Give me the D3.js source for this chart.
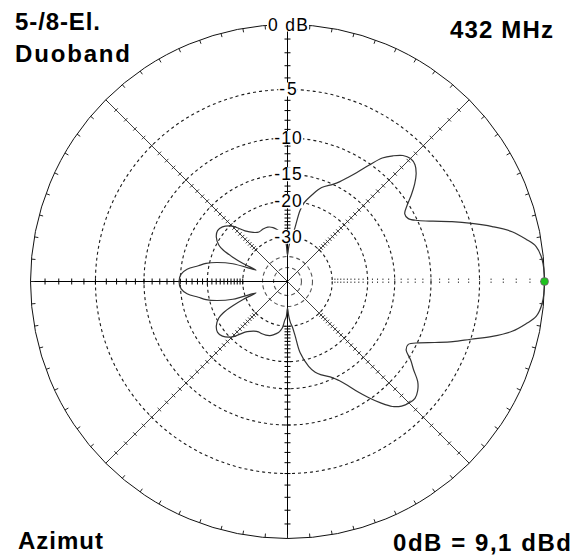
<!DOCTYPE html>
<html>
<head>
<meta charset="utf-8">
<script src="https://cdn.jsdelivr.net/npm/d3@7"></script>
<style>
  html, body { margin: 0; padding: 0; background: #fff; }
  svg { display: block; }
</style>
</head>
<body>
<svg id="chart" width="579" height="557"></svg>
<script>
// Azimuth pattern: direction in degrees (counter-clockwise, 0 = forward), relative gain in dB
const azimuthDeg = [
  0, 5, 8, 10, 12.5, 15, 17.5, 20, 22.5, 25, 27.5, 30, 32.5, 35, 37.5, 40, 42.5, 45,
  47.5, 50, 52.5, 55, 57.5, 60, 62.5, 65, 70, 74, 78, 80, 82, 84, 86, 88, 90, 92, 94,
  97, 100, 105, 110, 115, 120, 125, 130, 135, 140, 144, 148, 152, 154, 156, 158, 160,
  162, 165, 167.5, 170, 173, 176, 180,
  184, 187, 190, 192.5, 195, 198, 200, 202, 204, 206, 208, 212, 216, 220, 225, 230,
  233, 236, 240, 244, 248, 252, 255, 260, 262, 264, 266, 268, 270, 272, 274, 276, 278,
  280, 284, 287, 290, 295, 297.5, 300, 302.5, 305, 307.5, 310, 312.5, 315, 317.5, 320,
  322.5, 325, 327.5, 330, 332.5, 335, 337.5, 340, 342.5, 345, 347.5, 350, 352, 355
];
const gainDb = [
  0, -0.1, -0.4, -1.0, -1.9, -3.3, -4.9, -6.6, -8.4, -9.9, -10.9, -11.0, -10.2, -9.1, -8.1, -7.3, -6.8, -6.7,
  -7.0, -7.7, -8.6, -10.2, -11.8, -13.1, -14.2, -15.0, -16.2, -17.9, -19.9, -21.8, -26.5, -29.8, -31.5, -34.5, -39, -33, -30.3,
  -28.3, -27.5, -26.2, -25.6, -25.6, -25.8, -25.0, -23.3, -20.4, -19.0, -18.7, -19.2, -20.5, -22.0, -25.0, -29.0, -35.0,
  -25.7, -21.5, -19.3, -17.9, -16.0, -15.1, -14.8,
  -15.1, -16.0, -17.9, -19.3, -21.5, -25.7, -35.0, -29.0, -25.0, -22.0, -20.5, -19.2, -18.7, -19.0, -20.4, -23.3,
  -24.3, -25.0, -25.5, -25.5, -25.6, -25.9, -26.4, -27.5, -28.3, -29.5, -32.5, -34, -39, -34.5, -31.5, -29.8, -26.5,
  -21.8, -18.5, -17.1, -16.3, -15.2, -14.3, -13.1, -11.6, -10.2, -8.9, -7.8, -7.2, -6.9, -6.8, -7.1,
  -7.7, -8.8, -9.7, -10.8, -10.9, -9.8, -8.2, -6.5, -5.0, -3.3, -1.9, -1.0, -0.4, -0.1
];

// Scale rings (dB) and their labels
const ringLevels = [0, -5, -10, -15, -20, -30];
const ringLabels = ["0 dB", "-5", "-10", "-15", "-20", "-30"];
const ringLabelWidths = [40, 17.5, 27.5, 27.5, 27.5, 27.5];
const innerRings = [-40, -50];
// 1 dB tick marks along the axes
const axisTickDb = d3.range(-1, -31, -1);
// Tick marks around the rim every 5 degrees
const rimTickDeg = d3.range(0, 360, 5);
const spokeDeg = [45, 135, 225, 315];

const titleTopLeft = ["5-/8-El.", "Duoband"];
const titleTopRight = "432 MHz";
const titleBottomLeft = "Azimut";
const titleBottomRight = "0dB = 9,1 dBd";

const svg = d3.select("#chart");
const cx = 287.5, cy = 281.5, R = 257;
const FONT = "'Liberation Sans', Arial, Helvetica, sans-serif";

// ARRL log-periodic grid: each 2 dB shrinks the radius by a factor of 0.89
const toRel = db => Math.pow(0.89, -db / 2);
const r = d3.scaleLinear().domain([0, 1]).range([0, R]);
const rad = db => r(toRel(db));
const px = (deg, rr) => cx + rr * Math.cos(deg * Math.PI / 180);
const py = (deg, rr) => cy - rr * Math.sin(deg * Math.PI / 180);

const g = svg.append("g");

// Dashed level rings
g.selectAll("circle.ring")
  .data(ringLevels.filter(d => d < 0))
  .join("circle")
  .attr("cx", cx).attr("cy", cy)
  .attr("r", d => rad(d))
  .attr("fill", "none")
  .attr("stroke", "#1a1a1a")
  .attr("stroke-width", 1.1)
  .attr("stroke-dasharray", "3,3");

g.selectAll("circle.inner")
  .data(innerRings)
  .join("circle")
  .attr("cx", cx).attr("cy", cy)
  .attr("r", d => rad(d))
  .attr("fill", "none")
  .attr("stroke", "#555")
  .attr("stroke-width", 1.1)
  .attr("stroke-dasharray", "4,3");

// Diagonal spokes
g.selectAll("line.spoke")
  .data(spokeDeg)
  .join("line")
  .attr("x1", cx).attr("y1", cy)
  .attr("x2", d => px(d, R)).attr("y2", d => py(d, R))
  .attr("stroke", "#2a2a2a")
  .attr("stroke-width", 0.9);

// Main axes: full vertical, left half horizontal
g.append("line")
  .attr("x1", cx).attr("y1", cy - R).attr("x2", cx).attr("y2", cy + R)
  .attr("stroke", "#000").attr("stroke-width", 1);
g.append("line")
  .attr("x1", cx - R).attr("y1", cy).attr("x2", cx).attr("y2", cy)
  .attr("stroke", "#000").attr("stroke-width", 1);

// 1 dB ticks on the axes and spokes
const ticks = g.append("g");
axisTickDb.forEach(db => {
  const rr = rad(db);
  // vertical axis, up and down
  [90, 270].forEach(a => {
    ticks.append("line")
      .attr("x1", cx - 3).attr("x2", cx + 3)
      .attr("y1", py(a, rr)).attr("y2", py(a, rr))
      .attr("stroke", "#000").attr("stroke-width", 1);
  });
  // left horizontal axis
  ticks.append("line")
    .attr("x1", px(180, rr)).attr("x2", px(180, rr))
    .attr("y1", cy - 3).attr("y2", cy + 3)
    .attr("stroke", "#000").attr("stroke-width", 1);
  // right horizontal axis: dotted marks only
  ticks.append("line")
    .attr("x1", px(0, rr)).attr("x2", px(0, rr))
    .attr("y1", cy - 3).attr("y2", cy + 3)
    .attr("stroke", "#444").attr("stroke-width", 1)
    .attr("stroke-dasharray", "1.5,1.5");
  // spokes
  spokeDeg.forEach(a => {
    const x0 = px(a, rr), y0 = py(a, rr);
    const n = (a + 90) * Math.PI / 180;
    ticks.append("line")
      .attr("x1", x0 - 2.5 * Math.cos(n)).attr("y1", y0 + 2.5 * Math.sin(n))
      .attr("x2", x0 + 2.5 * Math.cos(n)).attr("y2", y0 - 2.5 * Math.sin(n))
      .attr("stroke", "#2a2a2a").attr("stroke-width", 0.9);
  });
});

// Outer rim (0 dB) with inward ticks
g.append("circle")
  .attr("cx", cx).attr("cy", cy).attr("r", R)
  .attr("fill", "none").attr("stroke", "#111").attr("stroke-width", 1);
g.selectAll("line.rim")
  .data(rimTickDeg)
  .join("line")
  .attr("x1", d => px(d, R)).attr("y1", d => py(d, R))
  .attr("x2", d => px(d, R - 4)).attr("y2", d => py(d, R - 4))
  .attr("stroke", "#222").attr("stroke-width", 1);

// Radiation pattern
const pts = azimuthDeg.map((a, i) => [px(a, rad(gainDb[i])), py(a, rad(gainDb[i]))]);
g.append("path")
  .attr("d", d3.line().curve(d3.curveCatmullRomClosed.alpha(0.5))(pts))
  .attr("fill", "none")
  .attr("stroke", "#333")
  .attr("stroke-width", 1.2);

// Ring labels on the upward axis, knocked out on white
const labels = g.append("g");
ringLevels.forEach((db, i) => {
  const y = cy - rad(db);
  const t = labels.append("text")
    .attr("x", cx + 0.5).attr("y", y + 6)
    .attr("text-anchor", "middle")
    .attr("font-family", FONT).attr("font-size", 17.5)
    .attr("textLength", ringLabelWidths[i]).attr("lengthAdjust", "spacing")
    .attr("fill", "#000")
    .text(ringLabels[i]);
  const b = t.node().getBBox();
  labels.insert("rect", () => t.node())
    .attr("x", b.x - 1).attr("y", y - 7)
    .attr("width", b.width + 2).attr("height", 14)
    .attr("fill", "#fff");
});

// Forward maximum marker
g.append("circle")
  .attr("cx", px(azimuthDeg[0], rad(gainDb[0])))
  .attr("cy", py(azimuthDeg[0], rad(gainDb[0])))
  .attr("r", 4)
  .attr("fill", "#1fc21f").attr("stroke", "#8a3a8a").attr("stroke-width", 0.6);

// Corner captions
const cap = (txt, x, y, len, anchor) => svg.append("text")
  .attr("x", x).attr("y", y)
  .attr("text-anchor", anchor || "start")
  .attr("font-family", FONT).attr("font-size", 24).attr("font-weight", "bold")
  .attr("textLength", len).attr("lengthAdjust", "spacing")
  .attr("fill", "#000")
  .text(txt);
cap(titleTopLeft[0], 15, 30, 85);
cap(titleTopLeft[1], 15, 62, 115);
cap(titleTopRight, 450, 38, 103);
cap(titleBottomLeft, 18, 549, 85);
cap(titleBottomRight, 393, 551, 178);
</script>
</body>
</html>
